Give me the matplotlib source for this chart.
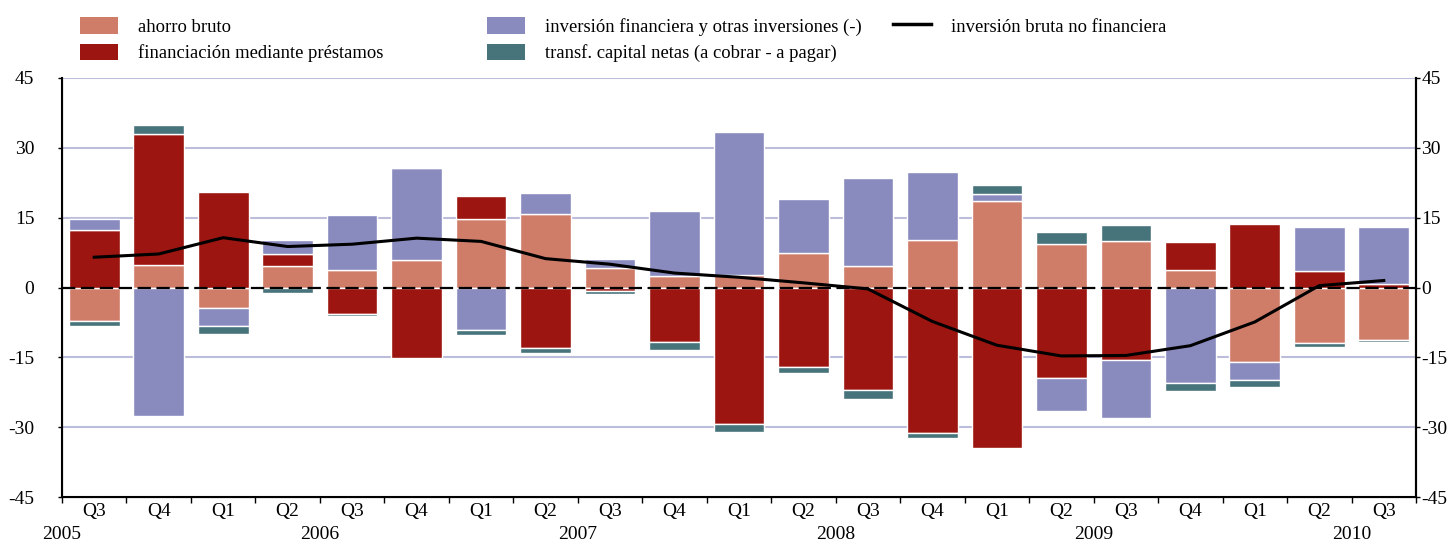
import numpy as np
import matplotlib
matplotlib.use("Agg")
import matplotlib.pyplot as plt
from matplotlib.patches import Patch
from matplotlib.lines import Line2D
from matplotlib.transforms import blended_transform_factory

plt.rcParams['font.family'] = ['Liberation Serif', 'DejaVu Serif']

quarters = ["Q3", "Q4", "Q1", "Q2", "Q3", "Q4", "Q1", "Q2", "Q3", "Q4", "Q1",
            "Q2", "Q3", "Q4", "Q1", "Q2", "Q3", "Q4", "Q1", "Q2", "Q3"]
years = ["2005", "2006", "2007", "2008", "2009", "2010"]

ahorro_bruto = [-7.2, 4.8, -4.4, 4.7, 3.7, 5.9, 14.7, 15.7, 4.1, 2.4, 2.6,
                7.5, 4.6, 10.3, 18.6, 9.3, 10.0, 3.7, -16.0, -12.0, -11.2]
financiacion = [12.3, 28.2, 20.6, 2.6, -5.7, -15.1, 5.0, -13.0, -0.8, -11.6, -29.4,
                -17.1, -22.0, -31.3, -34.5, -19.5, -15.6, 6.0, 13.7, 3.5, 0.7]
inversion_fin = [2.4, -27.7, -3.8, 3.0, 11.8, 19.7, -9.2, 4.7, 2.1, 14.0, 30.7,
                 11.6, 19.0, 14.6, 1.4, -7.0, -12.4, -20.6, -3.8, 9.6, 12.4]
transf_capital = [-1.0, 1.8, -1.8, -1.2, -0.5, 0.0, -0.9, -1.1, -0.6, -1.9, -1.6,
                  -1.3, -2.0, -1.0, 2.1, 2.6, 3.4, -1.6, -1.5, -0.7, -0.4]
inversion_bruta = [6.5, 7.2, 10.7, 8.8, 9.3, 10.6, 9.9, 6.2, 5.0, 3.1, 2.2,
                   1.0, -0.3, -7.3, -12.4, -14.7, -14.6, -12.5, -7.4, 0.4, 1.5]

labels = ["ahorro bruto", "financiación mediante préstamos",
          "inversión financiera y otras inversiones (-)",
          "transf. capital netas (a cobrar - a pagar)",
          "inversión bruta no financiera"]
colors = ["#CF7C69", "#9D1510", "#898BBE", "#47737A"]

FS = 13.4
TFS = 14

fig = plt.figure(figsize=(14.52, 5.42), dpi=100)
ax = fig.add_axes([62/1452, 1-497/542, (1416-62)/1452, (497-78)/542])

x = np.arange(len(quarters))
pos_bottom = np.zeros(len(x))
neg_bottom = np.zeros(len(x))
series = [ahorro_bruto, financiacion, inversion_fin, transf_capital]
for vals, c in zip(series, colors):
    v = np.array(vals, dtype=float)
    bottom = np.where(v >= 0, pos_bottom, neg_bottom)
    ax.bar(x, v, width=0.786, bottom=bottom, color=c, edgecolor="white",
           linewidth=1.0, zorder=2)
    pos_bottom += np.where(v >= 0, v, 0)
    neg_bottom += np.where(v < 0, v, 0)

ax.axhline(0, color="black", lw=1.6, ls=(0, (6, 2.5)), zorder=3)
ax.plot(x, inversion_bruta, color="black", lw=2.2, zorder=4)

ax.set_xlim(-0.5, len(x) - 0.5)
ax.set_ylim(-45, 45)
yt = [-45, -30, -15, 0, 15, 30, 45]
ax.set_yticks(yt)
ax.set_yticklabels([str(t) for t in yt])
for g in [-30, -15, 15, 30, 45]:
    ax.axhline(g, color="#BCBDDB", lw=1.5, zorder=1)

ax.spines["top"].set_visible(False)
for s in ["left", "right", "bottom"]:
    ax.spines[s].set_color("black")
    ax.spines[s].set_linewidth(1.5)
ax.tick_params(axis="y", direction="out", length=3, width=1, labelsize=TFS, pad=17)

ax2 = ax.twinx()
ax2.set_ylim(-45, 45)
ax2.set_yticks(yt)
ax2.set_yticklabels([str(t) for t in yt])
ax2.spines["top"].set_visible(False)
ax2.spines["right"].set_linewidth(1.5)
ax2.tick_params(axis="y", direction="out", length=3, width=1, labelsize=TFS, pad=1)

# x ticks at slot boundaries, year boundaries longer
bounds = np.arange(-0.5, len(x) + 0.5, 1.0)
ax.set_xticks(bounds)
ax.set_xticklabels([])
ax.tick_params(axis="x", direction="out", length=4, width=1)
year_bounds = [-0.5, 1.5, 5.5, 9.5, 13.5, 17.5]
ax.set_xticks(year_bounds, minor=True)
ax.tick_params(axis="x", which="minor", direction="out", length=8, width=1.3)

trans = blended_transform_factory(ax.transData, ax.transAxes)
for xi, q in zip(x, quarters):
    ax.text(xi, -0.034, q, transform=trans, ha="center", va="center", fontsize=TFS)
year_pos = [-0.5, 3.5, 7.5, 11.5, 15.5, 19.5]
for xp, yl in zip(year_pos, years):
    ax.text(xp, -0.09, yl, transform=trans, ha="center", va="center", fontsize=TFS)

handles = [Patch(facecolor=c, edgecolor="none") for c in colors]
line_h = Line2D([0], [0], color="black", lw=2.5)
common = dict(frameon=False, fontsize=FS, handlelength=2.05, handleheight=1.0,
              handletextpad=1.05, labelspacing=0.42, borderpad=0, borderaxespad=0,
              loc="upper left")
top = 1 - 17/542
fig.legend(handles[0:2], labels[0:2], bbox_to_anchor=(80/1452, top), **common)
fig.legend(handles[2:4], labels[2:4], bbox_to_anchor=(487/1452, top), **common)
fig.legend([line_h], labels[4:5], bbox_to_anchor=(893/1452, top), **common)

fig.savefig("out.png", dpi=100)
